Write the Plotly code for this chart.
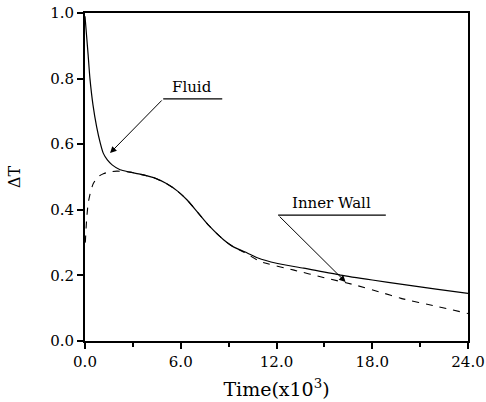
import plotly.graph_objects as go

# Fluid (solid) curve: time (x10^3), dT
fluid_t = [0.0, 0.1, 0.2, 0.31, 0.5, 0.73, 0.95, 1.15, 1.4, 1.7, 2.2, 2.8, 3.5, 4.3, 5.1, 5.8, 6.4, 7.1, 7.8, 8.7, 9.3, 10.0, 10.8, 12.0, 13.7, 16.0, 18.0, 20.0, 22.0, 24.0]
fluid_v = [0.99, 0.93, 0.87, 0.80, 0.72, 0.653, 0.605, 0.572, 0.552, 0.537, 0.522, 0.515, 0.508, 0.498, 0.48, 0.457, 0.43, 0.39, 0.35, 0.308, 0.287, 0.272, 0.254, 0.237, 0.222, 0.201, 0.186, 0.172, 0.158, 0.145]

# Inner wall (dashed) curve
wall_t = [0.02, 0.1, 0.2, 0.35, 0.52, 0.8, 1.15, 1.6, 2.0, 2.8, 3.5, 4.3, 5.1, 5.8, 6.4, 7.1, 7.8, 8.7, 9.3, 10.0, 11.0, 13.1, 15.0, 16.9, 18.5, 19.8, 22.0, 24.0]
wall_v = [0.30, 0.37, 0.42, 0.455, 0.48, 0.50, 0.51, 0.516, 0.518, 0.515, 0.508, 0.498, 0.48, 0.457, 0.43, 0.39, 0.35, 0.308, 0.287, 0.27, 0.242, 0.216, 0.193, 0.171, 0.149, 0.13, 0.106, 0.084]

x_ticks = [0, 6, 12, 18, 24]
y_ticks = [0.0, 0.2, 0.4, 0.6, 0.8, 1.0]

font_family = "DejaVu Serif, Liberation Serif, serif"

fig = go.Figure()
fig.add_trace(go.Scatter(x=fluid_t, y=fluid_v, mode="lines", line=dict(color="black", width=1.2, shape="spline", smoothing=0.6), showlegend=False))
fig.add_trace(go.Scatter(x=wall_t, y=wall_v, mode="lines", line=dict(color="black", width=1.1, dash="7px,7px", shape="spline", smoothing=0.6), showlegend=False))

# Annotations
fig.add_shape(type="line", x0=4.9, x1=8.6, y0=0.738, y1=0.738, line=dict(color="black", width=1.2))
fig.add_annotation(x=1.57, y=0.573, ax=4.9, ay=0.738, axref="x", ayref="y", text="", showarrow=True,
                   arrowhead=2, arrowsize=1.3, arrowwidth=1, arrowcolor="black")
fig.add_annotation(x=6.7, y=0.774, text="Fluid", showarrow=False, font=dict(family=font_family, size=15, color="black"))

fig.add_shape(type="line", x0=12.1, x1=18.85, y0=0.384, y1=0.384, line=dict(color="black", width=1.2))
fig.add_annotation(x=16.33, y=0.18, ax=12.1, ay=0.384, axref="x", ayref="y", text="", showarrow=True,
                   arrowhead=2, arrowsize=1.3, arrowwidth=1, arrowcolor="black")
fig.add_annotation(x=15.45, y=0.421, text="Inner Wall", showarrow=False, font=dict(family=font_family, size=15, color="black"))

axis_common = dict(showgrid=False, zeroline=False, showline=True, linecolor="black", linewidth=2,
                   mirror=True, ticks="outside", ticklen=6, tickwidth=1.5, tickcolor="black",
                   automargin=False,
                   tickfont=dict(family=font_family, size=15, color="black"))

fig.update_xaxes(range=[0, 24], tickvals=x_ticks, ticktext=[f"{v:.1f}" for v in x_ticks],
                 title=dict(text="Time(x10<sup>3</sup>)", font=dict(family=font_family, size=19, color="black"), standoff=13),
                 minor=dict(tickvals=[3, 9, 15, 21], ticks="outside", ticklen=4, tickcolor="black"),
                 **axis_common)
fig.update_yaxes(range=[0, 1], tickvals=y_ticks, ticktext=[f"{v:.1f}" for v in y_ticks],
                 title=dict(text="ΔT", font=dict(family=font_family, size=16, color="black"), standoff=26),
                 **axis_common)

fig.update_layout(width=486, height=402, margin=dict(l=85, r=18, t=13, b=61),
                  plot_bgcolor="white", paper_bgcolor="white")

fig.write_html("out.html")
